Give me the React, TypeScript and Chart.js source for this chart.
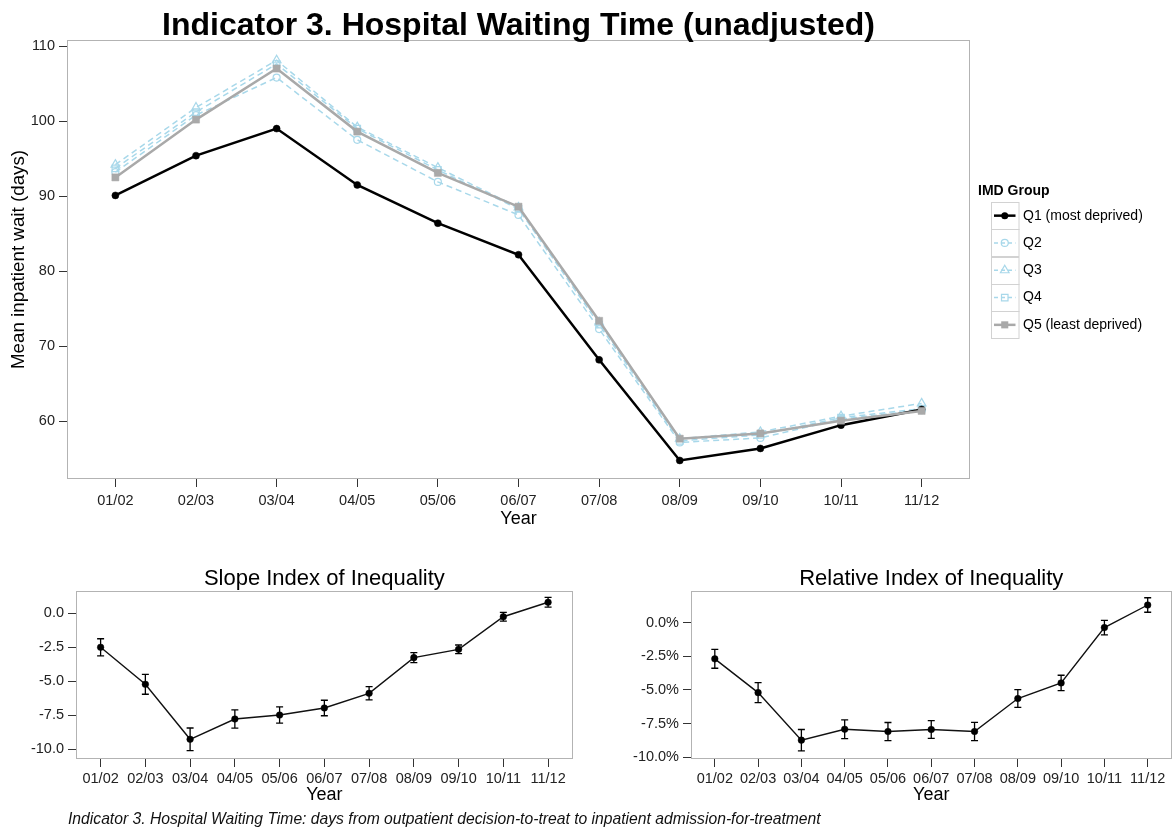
import React, { useEffect, useRef } from 'react';
import { Chart, registerables } from 'chart.js';

Chart.register(...registerables);

// ---------------- data ----------------
const years = ['01/02', '02/03', '03/04', '04/05', '05/06', '06/07', '07/08', '08/09', '09/10', '10/11', '11/12'];
const seriesNames = ['Q1 (most deprived)', 'Q2', 'Q3', 'Q4', 'Q5 (least deprived)'];
const q1 = [90.1, 95.4, 99.0, 91.5, 86.4, 82.2, 68.2, 54.8, 56.4, 59.5, 61.6];
const q2 = [93.2, 100.8, 105.8, 97.5, 91.9, 87.5, 72.3, 57.2, 57.8, 60.3, 61.5];
const q3 = [94.2, 101.8, 108.1, 99.2, 93.8, 88.5, 73.2, 57.7, 58.6, 60.7, 62.4];
const q4 = [93.7, 101.2, 107.6, 99.0, 93.5, 88.3, 72.9, 57.4, 58.2, 60.5, 61.7];
const q5 = [92.5, 100.2, 107.0, 98.6, 93.1, 88.6, 73.4, 57.7, 58.4, 60.1, 61.4];
const sii = [-2.5, -5.22, -9.26, -7.77, -7.48, -6.96, -5.88, -3.26, -2.65, -0.25, 0.81];
const siiErr = [0.63, 0.73, 0.83, 0.67, 0.6, 0.57, 0.49, 0.37, 0.32, 0.32, 0.36];
const rii = [-2.69, -5.2, -8.73, -7.92, -8.09, -7.94, -8.09, -5.64, -4.48, -0.37, 1.31];
const riiErr = [0.7, 0.74, 0.79, 0.7, 0.67, 0.66, 0.68, 0.66, 0.57, 0.54, 0.54];
const waitTicks = [60, 70, 80, 90, 100, 110];
const indexTicks = [-10, -7.5, -5, -2.5, 0];

// ---------------- styles ----------------
const FONT = "'Liberation Sans', Arial, Helvetica, sans-serif";
const LIGHT = '#a8d8ea';
const GREY = '#a9a9a9';
const TICK_COLOR = '#222';

type Style = { color: string; width: number; dash: number[]; shape: string; radius: number; fill: boolean };
const styles: Style[] = [
  { color: '#000000', width: 2.5, dash: [], shape: 'circle', radius: 3.5, fill: true },
  { color: LIGHT, width: 1.5, dash: [6, 4], shape: 'circle', radius: 3.5, fill: false },
  { color: LIGHT, width: 1.5, dash: [6, 4], shape: 'triangle', radius: 5, fill: false },
  { color: LIGHT, width: 1.5, dash: [6, 4], shape: 'rect', radius: 4.6, fill: false },
  { color: GREY, width: 2.5, dash: [], shape: 'rect', radius: 5, fill: true },
];
const drawOrder = [1, 4, 3, 2, 0];

const pts = (arr: number[]) => arr.map((y, i) => ({ x: i, y }));

function xScale(min: number, max: number, height: number, padding: number) {
  return {
    type: 'linear',
    min,
    max,
    afterBuildTicks: (s: any) => {
      s.ticks = years.map((_, i) => ({ value: i }));
    },
    afterFit: (s: any) => {
      s.height = height;
    },
    ticks: {
      callback: (v: any) => years[v] ?? '',
      font: { family: FONT, size: 14.5 },
      color: TICK_COLOR,
      padding,
      maxRotation: 0,
      autoSkip: false,
    },
    grid: { drawOnChartArea: false, drawTicks: true, tickLength: 8, tickColor: '#333', color: '#333', lineWidth: 1 },
    border: { display: false },
  };
}

function yScale(min: number, max: number, ticksArr: number[], fmt: (v: number) => string, width: number) {
  return {
    type: 'linear',
    min,
    max,
    afterBuildTicks: (s: any) => {
      s.ticks = ticksArr.map((v) => ({ value: v }));
    },
    afterFit: (s: any) => {
      s.width = width;
    },
    ticks: {
      callback: (v: any) => fmt(Number(v)),
      font: { family: FONT, size: 14.5 },
      color: TICK_COLOR,
      padding: 4,
    },
    grid: { drawOnChartArea: false, drawTicks: true, tickLength: 8, tickColor: '#333', color: '#333', lineWidth: 1 },
    border: { display: false },
  };
}

function drawMarker(ctx: CanvasRenderingContext2D, s: Style, x: number, y: number) {
  ctx.save();
  ctx.setLineDash([]);
  ctx.strokeStyle = s.color;
  ctx.fillStyle = s.color;
  ctx.lineWidth = 1.2;
  ctx.beginPath();
  const r = s.radius;
  if (s.shape === 'circle') {
    ctx.arc(x, y, r, 0, Math.PI * 2);
  } else if (s.shape === 'triangle') {
    ctx.moveTo(x, y - r);
    ctx.lineTo(x + r * 0.866, y + r * 0.5);
    ctx.lineTo(x - r * 0.866, y + r * 0.5);
    ctx.closePath();
  } else {
    const side = r * Math.SQRT2;
    ctx.rect(x - side / 2, y - side / 2, side, side);
  }
  if (s.fill) ctx.fill();
  else ctx.stroke();
  ctx.restore();
}

function drawLegend(ctx: CanvasRenderingContext2D) {
  ctx.save();
  ctx.fillStyle = '#000';
  ctx.font = `bold 14px ${FONT}`;
  ctx.textAlign = 'left';
  ctx.textBaseline = 'middle';
  ctx.fillText('IMD Group', 978, 191);
  const bx = 991;
  const by = 202;
  const bw = 27.5;
  const bh = 27.3;
  styles.forEach((s, i) => {
    const y0 = by + i * bh;
    ctx.strokeStyle = '#d2d2d2';
    ctx.lineWidth = 1;
    ctx.setLineDash([]);
    ctx.strokeRect(bx + 0.5, Math.round(y0) + 0.5, bw, Math.round(bh));
    const cy = y0 + bh / 2;
    const cx = bx + bw / 2;
    ctx.strokeStyle = s.color;
    ctx.lineWidth = s.width;
    ctx.setLineDash(s.dash.length ? [4, 3] : []);
    ctx.beginPath();
    ctx.moveTo(bx + 3, cy);
    ctx.lineTo(bx + bw - 3, cy);
    ctx.stroke();
    ctx.setLineDash([]);
    drawMarker(ctx, s, cx, cy);
    ctx.fillStyle = '#000';
    ctx.font = `14px ${FONT}`;
    ctx.fillText(seriesNames[i], 1023, cy);
  });
  ctx.restore();
}

type Deco = {
  title?: { text: string; font: string; y: number };
  xTitle?: { text: string; font: string; y: number };
  yTitle?: { text: string; font: string; x: number };
  legend?: boolean;
  errors?: { values: number[]; errs: number[] };
};

function decoPlugin(d: Deco) {
  return {
    id: 'deco',
    afterDatasetsDraw(chart: any) {
      if (!d.errors) return;
      const { ctx } = chart;
      const xs = chart.scales.x;
      const ys = chart.scales.y;
      ctx.save();
      ctx.strokeStyle = '#000';
      ctx.lineWidth = 1.3;
      d.errors.values.forEach((v, i) => {
        const e = d.errors!.errs[i];
        const px = xs.getPixelForValue(i);
        const y1 = ys.getPixelForValue(v + e);
        const y2 = ys.getPixelForValue(v - e);
        ctx.beginPath();
        ctx.moveTo(px, y1);
        ctx.lineTo(px, y2);
        ctx.moveTo(px - 3.5, y1);
        ctx.lineTo(px + 3.5, y1);
        ctx.moveTo(px - 3.5, y2);
        ctx.lineTo(px + 3.5, y2);
        ctx.stroke();
      });
      ctx.restore();
    },
    afterDraw(chart: any) {
      const { ctx, chartArea: a } = chart;
      ctx.save();
      ctx.strokeStyle = '#b3b3b3';
      ctx.lineWidth = 1;
      ctx.strokeRect(Math.round(a.left) + 0.5, Math.round(a.top) + 0.5, Math.round(a.right - a.left) - 1, Math.round(a.bottom - a.top) - 1);
      ctx.fillStyle = '#000';
      const cx = (a.left + a.right) / 2;
      if (d.title) {
        ctx.font = d.title.font;
        ctx.textAlign = 'center';
        ctx.textBaseline = 'alphabetic';
        ctx.fillText(d.title.text, cx, d.title.y);
      }
      if (d.xTitle) {
        ctx.font = d.xTitle.font;
        ctx.textAlign = 'center';
        ctx.textBaseline = 'alphabetic';
        ctx.fillText(d.xTitle.text, cx, d.xTitle.y);
      }
      if (d.yTitle) {
        ctx.save();
        ctx.font = d.yTitle.font;
        ctx.textAlign = 'center';
        ctx.textBaseline = 'middle';
        ctx.translate(d.yTitle.x, (a.top + a.bottom) / 2);
        ctx.rotate(-Math.PI / 2);
        ctx.fillText(d.yTitle.text, 0, 0);
        ctx.restore();
      }
      if (d.legend) drawLegend(ctx);
      ctx.restore();
    },
  };
}

function ChartCanvas(props: { left: number; top: number; width: number; height: number; build: () => any }) {
  const ref = useRef<HTMLCanvasElement | null>(null);
  useEffect(() => {
    if (!ref.current) return;
    const chart = new Chart(ref.current, props.build());
    return () => chart.destroy();
  }, []);
  return (
    <canvas
      ref={ref}
      width={props.width}
      height={props.height}
      style={{ position: 'absolute', left: props.left, top: props.top, width: props.width, height: props.height }}
    />
  );
}

const baseOptions = (padding: any, scales: any) => ({
  responsive: false,
  maintainAspectRatio: false,
  animation: false,
  devicePixelRatio: 1,
  layout: { padding },
  plugins: { legend: { display: false }, tooltip: { enabled: false }, title: { display: false } },
  scales,
});

function buildTop() {
  const all = [q1, q2, q3, q4, q5];
  return {
    type: 'line',
    data: {
      datasets: all.map((arr, i) => {
        const s = styles[i];
        return {
          label: seriesNames[i],
          data: pts(arr),
          borderColor: s.color,
          backgroundColor: s.color,
          borderWidth: s.width,
          borderDash: s.dash,
          tension: 0,
          fill: false,
          pointStyle: s.shape,
          pointRadius: s.radius,
          pointBackgroundColor: s.fill ? s.color : 'rgba(255,255,255,0)',
          pointBorderColor: s.color,
          pointBorderWidth: s.fill ? 0.5 : 1.2,
          order: drawOrder[i],
        };
      }),
    },
    options: baseOptions(
      { left: 0, right: 206, top: 40, bottom: 0 },
      {
        x: xScale(-0.6, 10.6, 66, 5),
        y: yScale(52.33, 110.8, waitTicks, (v) => String(v), 67),
      }
    ),
    plugins: [
      decoPlugin({
        title: { text: 'Indicator 3. Hospital Waiting Time (unadjusted)', font: `bold 32px ${FONT}`, y: 35 },
        xTitle: { text: 'Year', font: `18px ${FONT}`, y: 524 },
        yTitle: { text: 'Mean inpatient wait (days)', font: `18.8px ${FONT}`, x: 19 },
        legend: true,
      }),
    ],
  };
}

function buildIndex(values: number[], errs: number[], min: number, max: number, fmt: (v: number) => string, yWidth: number, rightPad: number, title: string) {
  return {
    type: 'line',
    data: {
      datasets: [
        {
          label: title,
          data: pts(values),
          borderColor: '#111',
          backgroundColor: '#000',
          borderWidth: 1.4,
          tension: 0,
          fill: false,
          pointStyle: 'circle',
          pointRadius: 3.3,
          pointBackgroundColor: '#000',
          pointBorderColor: '#000',
          pointBorderWidth: 0.5,
        },
      ],
    },
    options: baseOptions(
      { left: 0, right: rightPad, top: 36, bottom: 0 },
      {
        x: xScale(-0.55, 10.55, 73, 3),
        y: yScale(min, max, indexTicks, fmt, yWidth),
      }
    ),
    plugins: [
      decoPlugin({
        title: { text: title, font: `22px ${FONT}`, y: 30 },
        xTitle: { text: 'Year', font: `18px ${FONT}`, y: 245 },
        errors: { values, errs },
      }),
    ],
  };
}

export default function App() {
  return (
    <div style={{ position: 'absolute', left: 0, top: 0, width: 1176, height: 832, background: '#fff', overflow: 'hidden' }}>
      <ChartCanvas left={0} top={0} width={1176} height={545} build={buildTop} />
      <ChartCanvas
        left={0}
        top={555}
        width={590}
        height={277}
        build={() => buildIndex(sii, siiErr, -10.71, 1.64, (v) => v.toFixed(1), 76, 17.3, 'Slope Index of Inequality')}
      />
      <ChartCanvas
        left={590}
        top={555}
        width={586}
        height={277}
        build={() => buildIndex(rii, riiErr, -10.13, 2.35, (v) => v.toFixed(1) + '%', 101, 2, 'Relative Index of Inequality')}
      />
      <div
        style={{
          position: 'absolute',
          left: 68,
          top: 811,
          fontFamily: FONT,
          fontStyle: 'italic',
          fontSize: 15.7,
          lineHeight: '16px',
          color: '#111',
          whiteSpace: 'nowrap',
        }}
      >
        Indicator 3. Hospital Waiting Time: days from outpatient decision-to-treat to inpatient admission-for-treatment
      </div>
    </div>
  );
}
